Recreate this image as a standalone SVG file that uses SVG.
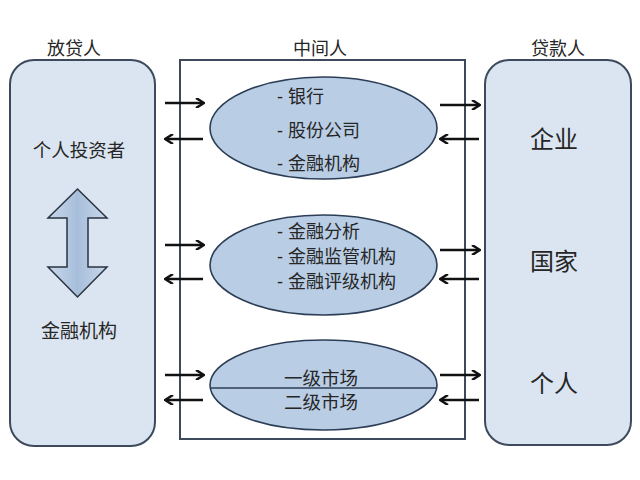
<svg xmlns="http://www.w3.org/2000/svg" width="640" height="480" viewBox="0 0 640 480">
<defs>
<style>
.t{font-family:"Liberation Sans","Noto Sans CJK SC",sans-serif;fill:#262626}
.box{fill:#dbe5f1;stroke:#3d4a5c;stroke-width:2}
.ell{fill:#b9cde5;stroke:#2c3e56;stroke-width:1.6}
.ar{stroke:#111;stroke-width:2.5;fill:none;marker-end:url(#h)}
</style>
<marker id="h" markerWidth="10" markerHeight="10" refX="8" refY="5" orient="auto" markerUnits="userSpaceOnUse">
<path d="M1,0 L9,5 L1,10" fill="none" stroke="#111" stroke-width="2.5"/>
</marker>
<linearGradient id="g" x1="0" y1="0" x2="1" y2="0">
<stop offset="0" stop-color="#c9d8ea"/><stop offset="0.5" stop-color="#a7bedb"/><stop offset="1" stop-color="#c9d8ea"/>
</linearGradient>
</defs>
<rect width="640" height="480" fill="#fff"/>
<g id="headers" class="t" font-size="18" text-anchor="middle">
<text x="74" y="55">放贷人</text>
<text x="320" y="55">中间人</text>
<text x="558" y="55">贷款人</text>
</g>
<g id="lenders">
<rect class="box" x="10" y="60" width="145" height="386" rx="24"/>
<text class="t" x="79" y="157" font-size="18.5" text-anchor="middle">个人投资者</text>
<path d="M77.5,189 L107,218 L88,218 L88,267 L107,267 L77.5,297 L48,267 L67,267 L67,218 L48,218 Z" fill="url(#g)" stroke="#2a3340" stroke-width="1.5"/>
<text class="t" x="79" y="338" font-size="19" text-anchor="middle">金融机构</text>
</g>
<g id="intermediary">
<rect x="180" y="60" width="285" height="379" fill="#fff" stroke="#3d4a5c" stroke-width="2"/>
</g>
<g id="group1">
<ellipse class="ell" cx="323.5" cy="128" rx="113.5" ry="51"/>
<g class="t" font-size="18">
<text x="277" y="103">- 银行</text>
<text x="277" y="137">- 股份公司</text>
<text x="277" y="170">- 金融机构</text>
</g>
</g>
<g id="group2">
<ellipse class="ell" cx="323.5" cy="265" rx="113.5" ry="50"/>
<g class="t" font-size="18">
<text x="277" y="238">- 金融分析</text>
<text x="277" y="263">- 金融监管机构</text>
<text x="277" y="288">- 金融评级机构</text>
</g>
</g>
<g id="group3">
<ellipse class="ell" cx="323.5" cy="385" rx="113.5" ry="45"/>
<line x1="210" y1="388" x2="437" y2="388" stroke="#2c3e56" stroke-width="1.5"/>
<g class="t" font-size="18.5" text-anchor="middle">
<text x="321" y="385">一级市场</text>
<text x="321" y="409">二级市场</text>
</g>
</g>
<g id="borrowers">
<rect class="box" x="485" y="60" width="146" height="385" rx="24"/>
<g class="t" font-size="24" text-anchor="middle">
<text x="554" y="148">企业</text>
<text x="554" y="270">国家</text>
<text x="554" y="392">个人</text>
</g>
</g>
<g id="connectors">
<line class="ar" x1="165" y1="103" x2="203" y2="103"/>
<line class="ar" x1="203" y1="139" x2="166" y2="139"/>
<line class="ar" x1="165" y1="245" x2="203" y2="245"/>
<line class="ar" x1="203" y1="279" x2="166" y2="279"/>
<line class="ar" x1="165" y1="375" x2="203" y2="375"/>
<line class="ar" x1="203" y1="400" x2="166" y2="400"/>
<line class="ar" x1="440" y1="105" x2="479" y2="105"/>
<line class="ar" x1="479" y1="139" x2="441" y2="139"/>
<line class="ar" x1="440" y1="250" x2="479" y2="250"/>
<line class="ar" x1="479" y1="279" x2="441" y2="279"/>
<line class="ar" x1="440" y1="375" x2="479" y2="375"/>
<line class="ar" x1="479" y1="400" x2="441" y2="400"/>
</g>
</svg>
